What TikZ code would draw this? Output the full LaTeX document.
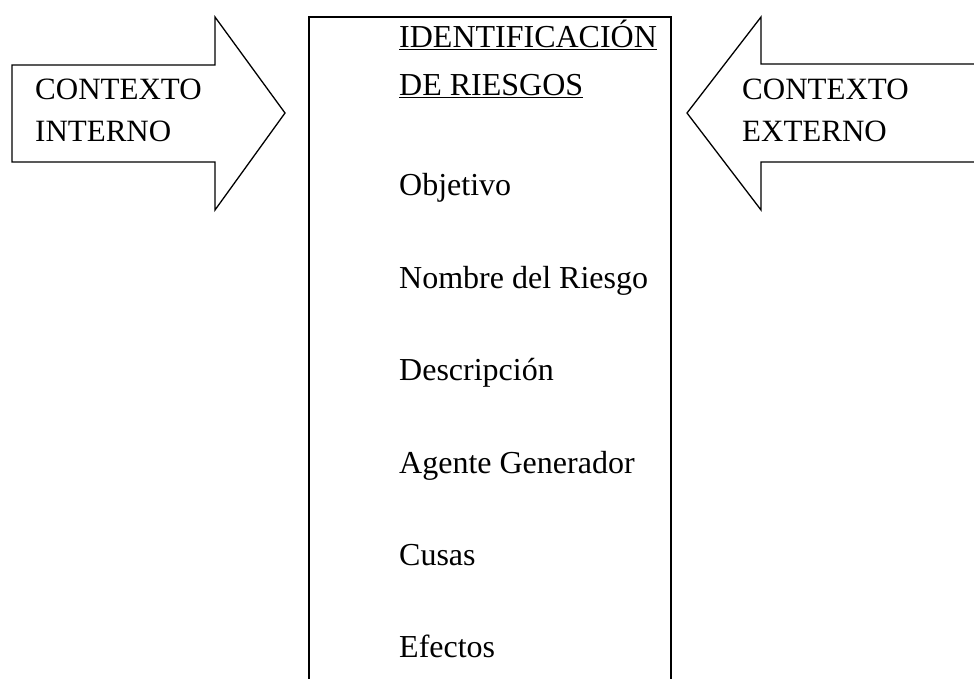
\documentclass[tikz,border=0pt]{standalone}
\usepackage{fontspec}
\setmainfont{Liberation Serif}
\usetikzlibrary{calc}
\tikzset{
	txt/.style={anchor=base west, inner sep=0pt, font=\fontsize{32}{38}\selectfont},
	arrowtxt/.style={txt, font=\fontsize{31}{37}\selectfont},
	blockarrow/.style={line width=1.3pt, line join=miter},
}

\begin{document}
\begin{tikzpicture}[x=1pt, y=-1pt]
		%%%%% START %%%%%
		\useasboundingbox (0, 0) rectangle (974, 678);
		\clip (0, 0) rectangle (974, 678);
		
		% arrow on the left
		\draw[blockarrow] (12, 65) -- (215, 65) -- (215, 17) -- (285, 113) -- (215, 210) -- (215, 162) -- (12, 162) -- cycle;
		\node[arrowtxt] (ctxint) at (35, 99) {CONTEXTO};
		\node[arrowtxt] (interno) at (35, 141) {INTERNO};
		
		% arrow on the right
		\draw[blockarrow] (990, 64) -- (761, 64) -- (761, 17) -- (687, 113) -- (761, 210) -- (761, 162) -- (990, 162);
		\node[arrowtxt] (ctxext) at (742, 99) {CONTEXTO};
		\node[arrowtxt] (externo) at (742, 141) {EXTERNO};
		
		% box in the middle
		\draw[line width=1.8pt] (309, 700) -- (309, 17) -- (671, 17) -- (671, 700);
		\node[txt] (ident) at (399, 47) {\underline{IDENTIFICACIÓN}};
		\node[txt] (riesgos) at (399, 95) {\underline{DE RIESGOS}};
		\node[txt] (objetivo) at (399, 195) {Objetivo};
		\node[txt] (nombre) at (399, 288) {Nombre del Riesgo};
		\node[txt] (descripcion) at (399, 380) {Descripción};
		\node[txt] (agente) at (399, 473) {Agente Generador};
		\node[txt] (cusas) at (399, 565) {Cusas};
		\node[txt] (efectos) at (399, 657) {Efectos};
		%%%%% END %%%%%
\end{tikzpicture}
\end{document}
